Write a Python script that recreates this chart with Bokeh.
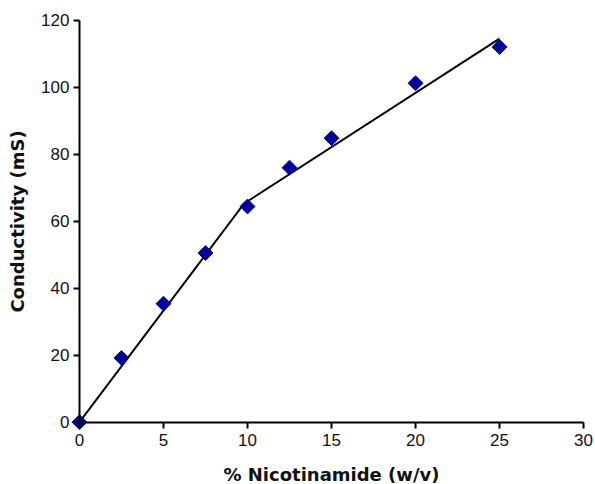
from bokeh.plotting import figure
from bokeh.models import Range1d, FixedTicker
from bokeh.embed import file_html
from bokeh.resources import INLINE

# Conductivity of aqueous nicotinamide solutions
nicotinamide = [0, 2.5, 5, 7.5, 10, 12.5, 15, 20, 25]          # % w/v
conductivity = [0, 19.2, 35.4, 50.5, 64.4, 76.0, 84.8, 101.2, 112.0]  # mS

# Two-segment linear fit (break near 10 % w/v)
fit_x = [0, 9.8, 25]
fit_y = [0, 65.3, 114.5]

x_ticks = [0, 5, 10, 15, 20, 25, 30]
y_ticks = [0, 20, 40, 60, 80, 100, 120]

TICK_FONT = "Liberation Sans"
LABEL_FONT = "DejaVu Sans"

# The frame spans the whole canvas; the axes sit at x=0 / y=0 so the
# marker at the origin is drawn whole.
p = figure(
    width=595, height=484,
    x_range=Range1d(-4.70, 30.71), y_range=Range1d(-18.6, 125.9),
    output_backend="svg", toolbar_location=None,
    min_border=0,
)
p.outline_line_color = None
p.grid.visible = False

p.line(fit_x, fit_y, line_color="black", line_width=2)
p.scatter(nicotinamide, conductivity, marker="square", size=10.5, angle=0.785398,
          fill_color="#00009C", line_color="#00009C")

for ax, ticks, bnds in ((p.xaxis[0], x_ticks, (0, 30)), (p.yaxis[0], y_ticks, (0, 120))):
    ax.ticker = FixedTicker(ticks=ticks)
    ax.fixed_location = 0
    ax.bounds = bnds
    ax.axis_line_width = 2
    ax.axis_line_color = "black"
    ax.major_tick_line_width = 2
    ax.major_tick_in = 0
    ax.major_tick_out = 6
    ax.minor_tick_line_color = None
    ax.major_label_text_font = TICK_FONT
    ax.major_label_text_font_size = "17px"
    ax.major_label_text_color = "#111111"
    ax.axis_label_text_font = LABEL_FONT
    ax.axis_label_text_font_size = "18px"
    ax.axis_label_text_font_style = "bold"
    ax.axis_label_text_color = "#111111"

p.xaxis.axis_label = "% Nicotinamide (w/v)"
p.yaxis.axis_label = "Conductivity (mS)"
p.xaxis.major_label_standoff = 6
p.yaxis.major_label_standoff = 4
p.xaxis.axis_label_standoff = 14
p.yaxis.axis_label_standoff = 10

open("out.html", "w").write(file_html(p, INLINE))
